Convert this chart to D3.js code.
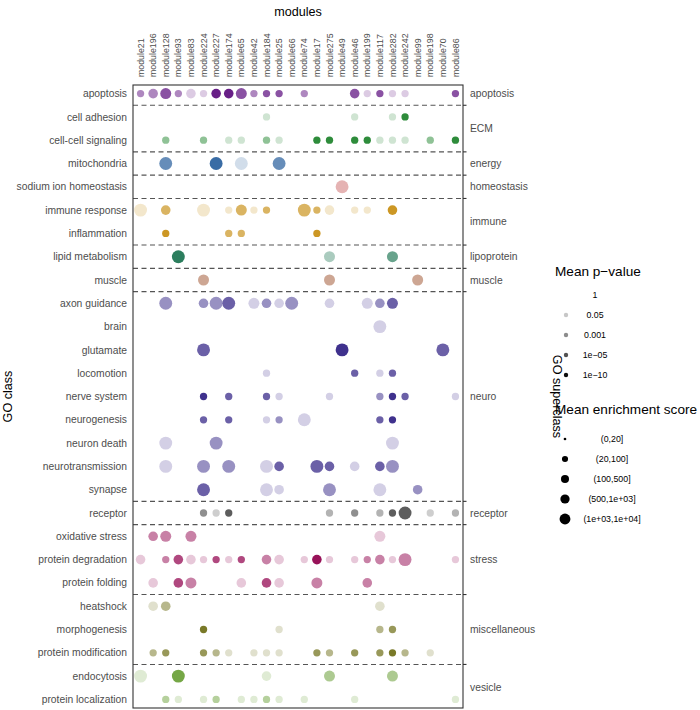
<!DOCTYPE html>
<html>
<head>
<meta charset="utf-8">
<script src="https://cdn.jsdelivr.net/npm/d3@7"></script>
<style>
  html, body { margin: 0; padding: 0; background: #ffffff; }
  svg { display: block; }
</style>
</head>
<body>
<div id="chart"></div>
<script>
// ---------------- DATA ----------------
const modules = ["module21","module196","module128","module93","module83","module224","module227","module174",
  "module65","module42","module184","module25","module66","module74","module17","module275","module49",
  "module46","module199","module117","module282","module242","module99","module198","module70","module86"];

const goClasses = ["apoptosis","cell adhesion","cell-cell signaling","mitochondria","sodium ion homeostasis",
  "immune response","inflammation","lipid metabolism","muscle","axon guidance","brain","glutamate","locomotion",
  "nerve system","neurogenesis","neuron death","neurotransmission","synapse","receptor","oxidative stress",
  "protein degradation","protein folding","heatshock","morphogenesis","protein modification","endocytosis",
  "protein localization"];

const goSuperclassOf = ["apoptosis","ECM","ECM","energy","homeostasis","immune","immune","lipoprotein","muscle",
  "neuro","neuro","neuro","neuro","neuro","neuro","neuro","neuro","neuro","receptor","stress","stress","stress",
  "miscellaneous","miscellaneous","miscellaneous","vesicle","vesicle"];

const superclasses = ["apoptosis","ECM","energy","homeostasis","immune","lipoprotein","muscle","neuro",
  "receptor","stress","miscellaneous","vesicle"];

// legend breaks
const pValueBreaks = [1, 0.05, 0.001, 1e-5, 1e-10];
const pValueLabels = ["1", "0.05", "0.001", "1e\u221205", "1e\u221210"];
const scoreBins = ["(0,20]", "(20,100]", "(100,500]", "(500,1e+03]", "(1e+03,1e+04]"];
const scoreBinReps = [10, 50, 300, 700, 3000];

// [GO class, module, -log10(mean p-value), mean enrichment score]
const hits = [
  ["apoptosis","module21",3.5,50],["apoptosis","module196",3.5,300],["apoptosis","module128",6,700],
  ["apoptosis","module93",3.5,50],["apoptosis","module83",1.3,300],["apoptosis","module224",1.3,50],
  ["apoptosis","module227",10,300],["apoptosis","module174",10,300],["apoptosis","module65",6,700],
  ["apoptosis","module42",3.5,50],["apoptosis","module184",6,50],["apoptosis","module25",6,50],
  ["apoptosis","module74",3.5,50],["apoptosis","module46",6,300],["apoptosis","module199",1.3,50],
  ["apoptosis","module117",6,50],["apoptosis","module282",1.3,50],["apoptosis","module242",1.3,50],
  ["apoptosis","module86",6,50],

  ["cell adhesion","module184",1.3,50],["cell adhesion","module46",1.3,50],["cell adhesion","module282",1.3,50],
  ["cell adhesion","module242",10,50],

  ["cell-cell signaling","module128",3.5,50],["cell-cell signaling","module224",3.5,50],
  ["cell-cell signaling","module174",1.3,50],["cell-cell signaling","module65",1.3,50],
  ["cell-cell signaling","module184",3.5,50],["cell-cell signaling","module25",1.3,50],
  ["cell-cell signaling","module17",10,50],["cell-cell signaling","module275",10,50],
  ["cell-cell signaling","module46",10,50],["cell-cell signaling","module199",10,50],
  ["cell-cell signaling","module117",1.3,50],["cell-cell signaling","module282",1.3,50],
  ["cell-cell signaling","module242",1.3,50],["cell-cell signaling","module198",3.5,50],
  ["cell-cell signaling","module86",10,50],

  ["mitochondria","module128",6,3000],["mitochondria","module227",10,3000],["mitochondria","module65",1.3,3000],
  ["mitochondria","module25",6,3000],

  ["sodium ion homeostasis","module49",2.2,3000],

  ["immune response","module21",1.3,3000],["immune response","module128",5,300],["immune response","module224",1.3,3000],
  ["immune response","module174",1.3,50],["immune response","module65",5,700],["immune response","module42",1.3,50],
  ["immune response","module184",5,50],["immune response","module74",5,3000],["immune response","module17",5,50],
  ["immune response","module275",1.3,300],["immune response","module46",1.3,50],["immune response","module199",1.3,50],
  ["immune response","module282",10,300],

  ["inflammation","module128",10,50],["inflammation","module174",5,50],["inflammation","module65",5,50],
  ["inflammation","module17",10,50],

  ["lipid metabolism","module93",10,3000],["lipid metabolism","module275",2.5,700],["lipid metabolism","module282",5,700],

  ["muscle","module224",3.5,700],["muscle","module275",3.5,700],["muscle","module99",3.5,700],

  ["axon guidance","module128",3.5,3000],["axon guidance","module224",3.5,300],["axon guidance","module227",3.5,3000],
  ["axon guidance","module174",6,3000],["axon guidance","module42",1.3,700],["axon guidance","module184",3.5,300],
  ["axon guidance","module25",1.3,300],["axon guidance","module66",3.5,3000],["axon guidance","module275",1.3,300],
  ["axon guidance","module199",1.3,700],["axon guidance","module117",3.5,300],["axon guidance","module282",6,700],

  ["brain","module117",1.3,3000],

  ["glutamate","module224",6,3000],["glutamate","module49",10,3000],["glutamate","module70",6,3000],

  ["locomotion","module184",1.3,50],["locomotion","module46",6,50],["locomotion","module117",1.3,50],
  ["locomotion","module282",6,50],

  ["nerve system","module224",10,50],["nerve system","module174",6,50],["nerve system","module184",6,50],
  ["nerve system","module25",1.3,50],["nerve system","module275",1.3,50],["nerve system","module117",3.5,50],
  ["nerve system","module282",10,50],["nerve system","module242",6,50],["nerve system","module86",1.3,50],

  ["neurogenesis","module224",6,50],["neurogenesis","module174",6,50],["neurogenesis","module184",1.3,50],
  ["neurogenesis","module25",3.5,50],["neurogenesis","module74",1.3,3000],["neurogenesis","module117",6,50],
  ["neurogenesis","module282",10,50],

  ["neuron death","module128",1.3,3000],["neuron death","module227",3.5,3000],["neuron death","module282",1.3,3000],

  ["neurotransmission","module128",1.3,3000],["neurotransmission","module224",3.5,3000],
  ["neurotransmission","module174",3.5,3000],["neurotransmission","module184",1.3,3000],
  ["neurotransmission","module25",6,300],["neurotransmission","module17",6,3000],
  ["neurotransmission","module275",6,300],["neurotransmission","module46",1.3,300],
  ["neurotransmission","module117",6,300],["neurotransmission","module282",3.5,3000],

  ["synapse","module224",6,3000],["synapse","module184",1.3,3000],["synapse","module25",1.3,300],
  ["synapse","module275",3.5,3000],["synapse","module117",1.3,3000],["synapse","module99",3.5,300],

  ["receptor","module224",3.5,50],["receptor","module227",1.3,50],["receptor","module174",6,50],
  ["receptor","module275",2.2,50],["receptor","module46",3.5,50],["receptor","module117",2.2,50],
  ["receptor","module282",6,50],["receptor","module242",6,3000],["receptor","module198",1.3,50],
  ["receptor","module86",2.2,50],

  ["oxidative stress","module196",3.5,300],["oxidative stress","module128",3.5,700],
  ["oxidative stress","module83",3.5,700],["oxidative stress","module117",1.3,700],

  ["protein degradation","module21",1.3,300],["protein degradation","module128",3.5,50],
  ["protein degradation","module93",6,300],["protein degradation","module83",1.3,300],
  ["protein degradation","module224",1.3,50],["protein degradation","module227",6,50],
  ["protein degradation","module174",1.3,50],["protein degradation","module65",6,50],
  ["protein degradation","module184",3.5,300],["protein degradation","module25",1.3,300],
  ["protein degradation","module74",1.3,50],["protein degradation","module17",10,300],
  ["protein degradation","module275",1.3,50],["protein degradation","module46",1.3,50],
  ["protein degradation","module199",3.5,50],["protein degradation","module117",3.5,300],
  ["protein degradation","module282",1.3,50],["protein degradation","module242",3.5,3000],
  ["protein degradation","module86",1.3,50],

  ["protein folding","module196",1.3,300],["protein folding","module93",6,300],["protein folding","module83",3.5,700],
  ["protein folding","module65",1.3,300],["protein folding","module184",6,300],["protein folding","module25",1.3,300],
  ["protein folding","module17",3.5,700],["protein folding","module199",3.5,300],

  ["heatshock","module196",1.3,300],["heatshock","module128",3.5,300],["heatshock","module117",1.3,300],

  ["morphogenesis","module224",10,50],["morphogenesis","module25",1.3,50],["morphogenesis","module117",3.5,50],
  ["morphogenesis","module282",6,50],

  ["protein modification","module196",3.5,50],["protein modification","module128",6,50],
  ["protein modification","module224",6,50],["protein modification","module227",3.5,50],
  ["protein modification","module174",1.3,50],["protein modification","module42",1.3,50],
  ["protein modification","module184",1.3,50],["protein modification","module25",1.3,50],
  ["protein modification","module17",6,50],["protein modification","module275",3.5,50],
  ["protein modification","module46",6,50],["protein modification","module117",6,50],
  ["protein modification","module282",10,50],["protein modification","module242",3.5,50],
  ["protein modification","module198",1.3,50],

  ["endocytosis","module21",1.3,3000],["endocytosis","module93",10,3000],["endocytosis","module184",1.3,300],
  ["endocytosis","module275",4,700],["endocytosis","module282",4,700],

  ["protein localization","module128",3.5,50],["protein localization","module93",1.3,50],
  ["protein localization","module224",1.3,50],["protein localization","module227",3.5,50],
  ["protein localization","module65",1.3,50],["protein localization","module42",1.3,50],
  ["protein localization","module184",3.5,50],["protein localization","module25",1.3,50],
  ["protein localization","module74",1.3,50],["protein localization","module46",1.3,50],
  ["protein localization","module86",1.3,50]
];

// ---------------- STYLE ----------------
const superColors = {
  "apoptosis": "#601381", "ECM": "#238631", "energy": "#2f64a0", "homeostasis": "#b22222",
  "immune": "#c99118", "lipoprotein": "#217756", "muscle": "#9c4f2a", "neuro": "#352687",
  "receptor": "#222222", "stress": "#930650", "miscellaneous": "#72721d", "vesicle": "#6ea23c"
};
const FONT = "'Liberation Sans', Arial, Helvetica, sans-serif";
const W = 700, H = 710;
const plot = { left: 133, right: 463, top: 85, bottom: 708 };

// ---------------- SCALES ----------------
const x = d3.scalePoint().domain(modules).range([plot.left, plot.right]).padding(0.6);
const y = d3.scalePoint().domain(goClasses).range([plot.top, plot.bottom]).padding(0.37);
const alpha = d3.scaleLinear().domain([0, 1.301, 3, 5, 10]).range([0, 0.22, 0.45, 0.68, 0.95]).clamp(true);
const radius = d3.scaleThreshold().domain([20, 100, 500, 1000]).range([1.6, 3.65, 4.8, 5.5, 6.45]);
const legendRadiusFactor = 0.84;
const superOfClass = new Map(goClasses.map((c, i) => [c, goSuperclassOf[i]]));

function shade(base, a) {
  const c = d3.rgb(base);
  const mix = v => Math.round(255 - a * (255 - v));
  return d3.rgb(mix(c.r), mix(c.g), mix(c.b)).formatHex();
}

// ---------------- DRAW ----------------
const svg = d3.select("#chart").append("svg").attr("width", W).attr("height", H)
  .style("font-family", FONT);
svg.append("rect").attr("width", W).attr("height", H).attr("fill", "#ffffff");

// group boundaries
const boundaries = [];
for (let i = 1; i < goClasses.length; i++) {
  if (goSuperclassOf[i] !== goSuperclassOf[i - 1]) {
    boundaries.push((y(goClasses[i]) + y(goClasses[i - 1])) / 2);
  }
}

// dashed separators
svg.append("g").selectAll("line").data(boundaries).join("line")
  .attr("x1", plot.left).attr("x2", plot.right)
  .attr("y1", d => d).attr("y2", d => d)
  .attr("stroke", "#555555").attr("stroke-width", 1.1).attr("stroke-dasharray", "5,3.5");

// dots
svg.append("g").selectAll("circle").data(hits).join("circle")
  .attr("cx", d => x(d[1]))
  .attr("cy", d => y(d[0]))
  .attr("r", d => radius(d[3]))
  .attr("fill", d => shade(superColors[superOfClass.get(d[0])], alpha(d[2])));

// frame
svg.append("rect").attr("x", plot.left).attr("y", plot.top)
  .attr("width", plot.right - plot.left).attr("height", plot.bottom - plot.top)
  .attr("fill", "none").attr("stroke", "#333333").attr("stroke-width", 1.1);

// right ticks at boundaries
svg.append("g").selectAll("line").data(boundaries).join("line")
  .attr("x1", plot.right).attr("x2", plot.right + 3.5)
  .attr("y1", d => d).attr("y2", d => d)
  .attr("stroke", "#333333").attr("stroke-width", 1.1);

// top module labels
svg.append("g").selectAll("text").data(modules).join("text")
  .attr("transform", d => `translate(${x(d)},${plot.top - 8}) rotate(-90)`)
  .attr("dy", "0.35em")
  .attr("text-anchor", "start")
  .attr("font-size", 8.8).attr("fill", "#4d4d4d")
  .text(d => d);

// left class labels
svg.append("g").selectAll("text").data(goClasses).join("text")
  .attr("x", plot.left - 6).attr("y", d => y(d)).attr("dy", "0.35em")
  .attr("text-anchor", "end").attr("font-size", 10.3).attr("fill", "#4d4d4d")
  .text(d => d);

// right superclass labels at group midpoints
const superPos = superclasses.map(s => {
  const ys = goClasses.filter((c, i) => goSuperclassOf[i] === s).map(c => y(c));
  return { s, y: d3.mean(ys) };
});
svg.append("g").selectAll("text").data(superPos).join("text")
  .attr("x", plot.right + 7).attr("y", d => d.y).attr("dy", "0.35em")
  .attr("text-anchor", "start").attr("font-size", 10.3).attr("fill", "#4d4d4d")
  .text(d => d.s);

// axis titles
svg.append("text").attr("x", (plot.left + plot.right) / 2).attr("y", 16)
  .attr("text-anchor", "middle").attr("font-size", 12.6).attr("fill", "#000")
  .text("modules");
svg.append("text").attr("transform", `translate(12,${(plot.top + plot.bottom) / 2}) rotate(-90)`)
  .attr("text-anchor", "middle").attr("font-size", 12.6).attr("fill", "#000")
  .text("GO class");
svg.append("text").attr("transform", `translate(553,${(plot.top + plot.bottom) / 2}) rotate(90)`)
  .attr("text-anchor", "middle").attr("font-size", 12.6).attr("fill", "#000")
  .text("GO superclass");

// legend: p-value
const lg1 = svg.append("g");
lg1.append("text").attr("x", 555).attr("y", 276).attr("font-size", 13.6).attr("fill", "#000")
  .text("Mean p\u2212value");
const pItems = lg1.selectAll("g.item").data(pValueBreaks).join("g").attr("class", "item")
  .attr("transform", (d, i) => `translate(0,${295 + i * 20})`);
pItems.append("circle").attr("cx", 566).attr("cy", 0).attr("r", 2.2)
  .attr("fill", d => shade("#000000", alpha(-Math.log10(d))));
pItems.append("text").attr("x", 595).attr("y", 0).attr("dy", "0.35em")
  .attr("text-anchor", "middle").attr("font-size", 8.8).attr("fill", "#000")
  .text((d, i) => pValueLabels[i]);

// legend: enrichment score
const lg2 = svg.append("g");
lg2.append("text").attr("x", 555).attr("y", 414).attr("font-size", 13.6).attr("fill", "#000")
  .text("Mean enrichment score");
const sItems = lg2.selectAll("g.item").data(scoreBinReps).join("g").attr("class", "item")
  .attr("transform", (d, i) => `translate(0,${439 + i * 20})`);
sItems.append("circle").attr("cx", 565).attr("cy", 0)
  .attr("r", d => radius(d) * legendRadiusFactor).attr("fill", "#000");
sItems.append("text").attr("x", 612).attr("y", 0).attr("dy", "0.35em")
  .attr("text-anchor", "middle").attr("font-size", 8.8).attr("fill", "#000")
  .text((d, i) => scoreBins[i]);
</script>
</body>
</html>
